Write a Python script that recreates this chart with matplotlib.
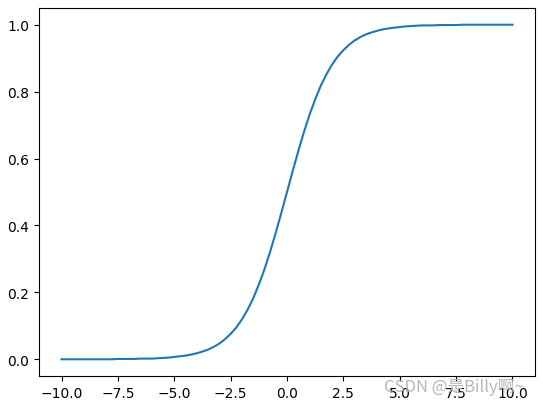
import matplotlib
matplotlib.use("Agg")
import matplotlib.pyplot as plt

# curve values, x step 0.25
x = [i * 0.25 - 10 for i in range(81)]
y = [0.000, 0.000, 0.000, 0.000, 0.000, 0.000, 0.000, 0.000, 0.000, 0.000,
     0.001, 0.001, 0.001, 0.001, 0.002, 0.002, 0.002, 0.003, 0.004, 0.005,
     0.007, 0.009, 0.011, 0.014, 0.018, 0.023, 0.029, 0.037, 0.047, 0.060,
     0.076, 0.095, 0.119, 0.148, 0.182, 0.223, 0.269, 0.321, 0.378, 0.438,
     0.500,
     0.562, 0.622, 0.679, 0.731, 0.777, 0.818, 0.852, 0.881, 0.905, 0.924,
     0.940, 0.953, 0.963, 0.971, 0.977, 0.982, 0.986, 0.989, 0.991, 0.993,
     0.995, 0.996, 0.997, 0.998, 0.998, 0.998, 0.999, 0.999, 0.999, 0.999,
     1.000, 1.000, 1.000, 1.000, 1.000, 1.000, 1.000, 1.000, 1.000, 1.000]

watermark = "CSDN @是Billy啊~"

fig = plt.figure(figsize=(5.43, 4.06), dpi=100)
ax = fig.add_axes([39 / 543, 1 - 377 / 406, 496 / 543, 368 / 406])
ax.plot(x, y)

# grey watermark sitting over the right x tick labels
fig.text(384 / 543, 1 - 387 / 406, watermark, fontsize=12, color="#b0b0b0",
         alpha=0.9, va="center", ha="left",
         family=["Noto Sans CJK SC", "DejaVu Sans"])

fig.savefig("out.png", dpi=100)
